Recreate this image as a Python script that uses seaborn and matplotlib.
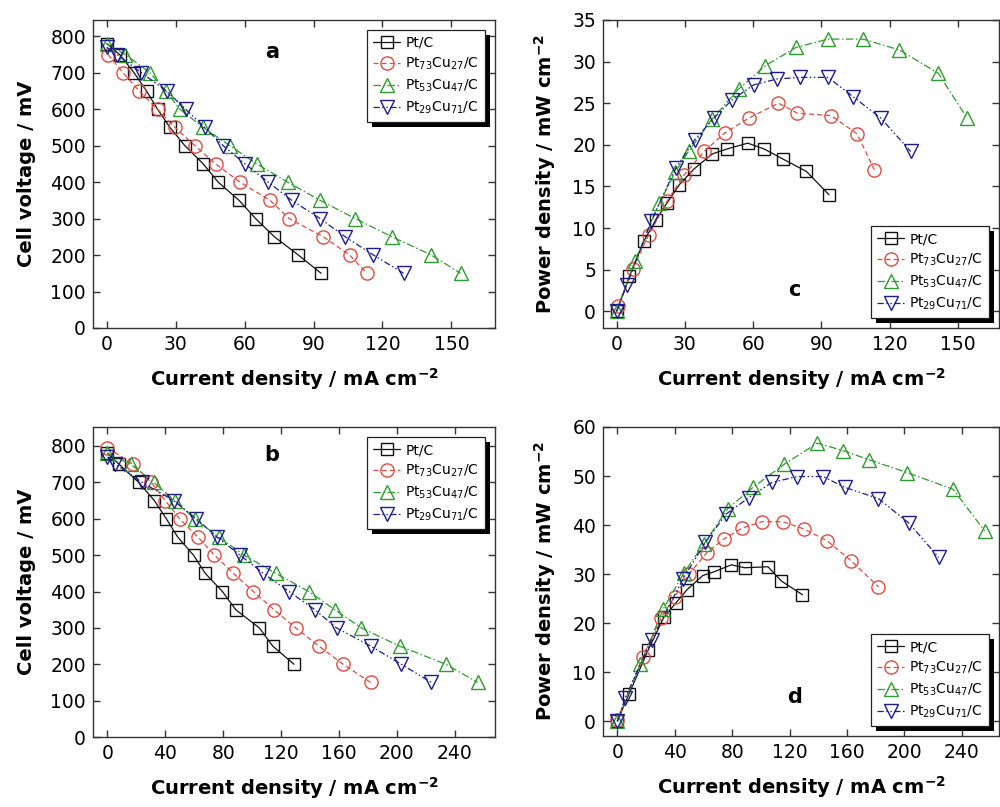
import numpy as np
import pandas as pd
import seaborn as sns
import matplotlib.pyplot as plt
from matplotlib.patches import Rectangle

# panel a / c : current density (mA cm-2), voltage (mV), power (mW cm-2)
a_cur_ptc = [0, 5.6, 11.9, 17.3, 22.1, 27.5, 34.0, 42.0, 48.5, 57.6, 64.8, 73.0, 83.4, 93.3]
a_vol_ptc = [780, 750, 700, 650, 600, 550, 500, 450, 400, 350, 300, 250, 200, 150]
c_pow_ptc = [0, 4.2, 8.4, 11.0, 13.0, 15.2, 17.1, 18.9, 19.5, 20.2, 19.5, 18.3, 16.8, 14.0]

a_cur_pt73 = [0.6, 7.1, 14.1, 22.1, 29.7, 38.4, 47.4, 58.0, 71.1, 79.4, 94.3, 105.7, 113.2]
a_vol_pt73 = [750, 700, 650, 600, 550, 500, 450, 400, 350, 300, 250, 200, 150]
c_pow_pt73 = [0.6, 5.1, 9.2, 13.2, 16.4, 19.2, 21.4, 23.2, 25.0, 23.8, 23.5, 21.3, 17.0]

a_cur_pt53 = [0, 8.1, 18.8, 25.7, 31.8, 42.0, 53.6, 65.3, 78.8, 92.9, 108.2, 124.2, 141.3, 154.0]
a_vol_pt53 = [780, 750, 700, 650, 600, 550, 500, 450, 400, 350, 300, 250, 200, 150]
c_pow_pt53 = [0, 6.1, 13.0, 16.7, 19.3, 23.1, 26.7, 29.5, 31.7, 32.7, 32.7, 31.4, 28.6, 23.2]

a_cur_pt29 = [0, 4.5, 15.1, 26.0, 34.3, 42.7, 50.7, 60.2, 70.3, 80.5, 92.9, 103.8, 116.1, 129.2]
a_vol_pt29 = [770, 750, 700, 650, 600, 550, 500, 450, 400, 350, 300, 250, 200, 150]
c_pow_pt29 = [0, 3.2, 10.8, 17.2, 20.6, 23.2, 25.4, 27.2, 27.9, 28.1, 28.1, 25.8, 23.2, 19.2]

# panel b / d
b_cur_ptc = [0, 8.0, 21.6, 32.4, 40.7, 48.5, 59.5, 67.6, 79.5, 88.7, 105.0, 114.3, 129.0]
b_vol_ptc = [780, 750, 700, 650, 600, 550, 500, 450, 400, 350, 300, 250, 200]
d_pow_ptc = [0, 5.5, 14.6, 21.2, 24.1, 26.8, 29.7, 30.5, 31.9, 31.3, 31.5, 28.6, 25.8]

b_cur_pt73 = [0, 17.7, 30.3, 40.0, 49.9, 62.5, 74.0, 87.1, 100.9, 115.2, 130.1, 146.2, 163.0, 182.0]
b_vol_pt73 = [795, 750, 700, 650, 600, 550, 500, 450, 400, 350, 300, 250, 200, 150]
d_pow_pt73 = [0.3, 13.2, 21.0, 25.4, 30.0, 34.4, 37.1, 39.4, 40.7, 40.7, 39.2, 36.8, 32.7, 27.4]

b_cur_pt53 = [0, 16.0, 32.0, 46.5, 60.2, 76.8, 94.5, 116.3, 139.3, 157.2, 175.6, 202.0, 234.0, 256.0]
b_vol_pt53 = [780, 750, 700, 650, 600, 550, 500, 450, 400, 350, 300, 250, 200, 150]
d_pow_pt53 = [0, 11.6, 22.9, 30.3, 36.1, 43.3, 47.7, 52.4, 56.7, 55.2, 53.3, 50.7, 47.3, 38.8]

b_cur_pt29 = [0, 5.5, 23.9, 45.7, 61.4, 75.6, 91.7, 107.8, 125.5, 143.4, 158.4, 182.0, 203.2, 224.0]
b_vol_pt29 = [770, 750, 700, 650, 600, 550, 500, 450, 400, 350, 300, 250, 200, 150]
d_pow_pt29 = [0, 4.8, 16.6, 29.0, 36.5, 42.2, 45.6, 48.7, 49.9, 49.9, 47.7, 45.4, 40.4, 33.4]

labels = ['Pt/C', 'Pt$_{73}$Cu$_{27}$/C', 'Pt$_{53}$Cu$_{47}$/C', 'Pt$_{29}$Cu$_{71}$/C']
colors = ['#111111', '#e04a44', '#2f9a2f', '#1c1c8c']
markers = ['s', 'o', '^', 'v']
msizes = [8.5, 9.5, 10, 10]
styles = ['-', (0, (4, 2.5)), (0, (6, 2, 1.2, 2)), (0, (5, 2, 1.2, 2, 1.2, 2))]

sns.set_style('ticks')
plt.rcParams['font.family'] = ['DejaVu Sans']
plt.rcParams['mathtext.default'] = 'regular'
plt.rcParams['text.color'] = 'black'
plt.rcParams['axes.labelcolor'] = 'black'
plt.rcParams['xtick.labelcolor'] = 'black'
plt.rcParams['ytick.labelcolor'] = 'black'

fig = plt.figure(figsize=(10, 8.07), dpi=100)
axA = fig.add_axes([0.093, 0.5936, 0.402, 0.3817])
axC = fig.add_axes([0.603, 0.5936, 0.396, 0.3817])
axB = fig.add_axes([0.093, 0.0867, 0.402, 0.3841])
axD = fig.add_axes([0.603, 0.088, 0.396, 0.3829])

panels = [
    (axA, [(a_cur_ptc, a_vol_ptc), (a_cur_pt73, a_vol_pt73), (a_cur_pt53, a_vol_pt53), (a_cur_pt29, a_vol_pt29)]),
    (axC, [(a_cur_ptc, c_pow_ptc), (a_cur_pt73, c_pow_pt73), (a_cur_pt53, c_pow_pt53), (a_cur_pt29, c_pow_pt29)]),
    (axB, [(b_cur_ptc, b_vol_ptc), (b_cur_pt73, b_vol_pt73), (b_cur_pt53, b_vol_pt53), (b_cur_pt29, b_vol_pt29)]),
    (axD, [(b_cur_ptc, d_pow_ptc), (b_cur_pt73, d_pow_pt73), (b_cur_pt53, d_pow_pt53), (b_cur_pt29, d_pow_pt29)]),
]

for ax, series in panels:
    for (x, y), lab, col, mk, ms, ls in zip(series, labels, colors, markers, msizes, styles):
        df = pd.DataFrame({'x': x, 'y': y})
        sns.lineplot(data=df, x='x', y='y', ax=ax, sort=False, label=lab,
                     color=col, linestyle=ls, linewidth=0.9, marker=mk,
                     markersize=ms, markerfacecolor='none', markeredgecolor=col,
                     markeredgewidth=1.0)
    for sp in ax.spines.values():
        sp.set_color('#333333')
        sp.set_linewidth(1.0)
    ax.tick_params(direction='in', top=True, right=True, length=5, width=1,
                   color='#333333', labelcolor='black', labelsize=13.5, pad=5)
    ax.set_xlabel('Current density / mA cm$^{-2}$', fontsize=14, fontweight='bold', labelpad=9)

# axis ranges and ticks
axA.set_xlim(-6, 169)
axA.set_ylim(0, 845)
axA.set_xticks(np.arange(0, 151, 30))
axA.set_yticks(np.arange(0, 801, 100))
axC.set_xlim(-6, 168)
axC.set_ylim(-2, 35)
axC.set_xticks(np.arange(0, 151, 30))
axC.set_yticks(np.arange(0, 36, 5))
axB.set_xlim(-10, 268)
axB.set_ylim(0, 852)
axB.set_xticks(np.arange(0, 241, 40))
axB.set_yticks(np.arange(0, 801, 100))
axD.set_xlim(-10, 266)
axD.set_ylim(-3, 60)
axD.set_xticks(np.arange(0, 241, 40))
axD.set_yticks(np.arange(0, 61, 10))

for ax in (axA, axB):
    ax.set_ylabel('Cell voltage / mV', fontsize=14, fontweight='bold', labelpad=10)
for ax in (axC, axD):
    ax.set_ylabel('Power density / mW cm$^{-2}$', fontsize=14, fontweight='bold', labelpad=10)

legends = []
for ax, loc in [(axA, 'upper right'), (axB, 'upper right'), (axC, 'lower right'), (axD, 'lower right')]:
    leg = ax.legend(loc=loc, fontsize=10, frameon=True, fancybox=False,
                    edgecolor='#222222', framealpha=1, handlelength=1.9,
                    handletextpad=0.4, borderpad=0.45, labelspacing=0.4,
                    borderaxespad=0.7)
    leg.get_frame().set_linewidth(0.9)
    for t in leg.get_texts():
        t.set_color('black')
    legends.append((ax, leg))

axA.text(0.445, 0.895, 'a', transform=axA.transAxes, fontsize=15, fontweight='bold', ha='center', va='center')
axB.text(0.445, 0.91, 'b', transform=axB.transAxes, fontsize=15, fontweight='bold', ha='center', va='center')
axC.text(0.484, 0.123, 'c', transform=axC.transAxes, fontsize=15, fontweight='bold', ha='center', va='center')
axD.text(0.484, 0.126, 'd', transform=axD.transAxes, fontsize=15, fontweight='bold', ha='center', va='center')

# solid black drop shadow behind each legend box
fig.canvas.draw()
inv = fig.transFigure.inverted()
for ax, leg in legends:
    bb = leg.get_frame().get_window_extent()
    (x0, y0), (x1, y1) = inv.transform([(bb.x0 + 5, bb.y0 - 5), (bb.x1 + 5, bb.y1 - 5)])
    ax.add_patch(Rectangle((x0, y0), x1 - x0, y1 - y0, transform=fig.transFigure,
                           facecolor='black', edgecolor='none', clip_on=False, zorder=4.9))

plt.savefig('out.png', dpi=100)
